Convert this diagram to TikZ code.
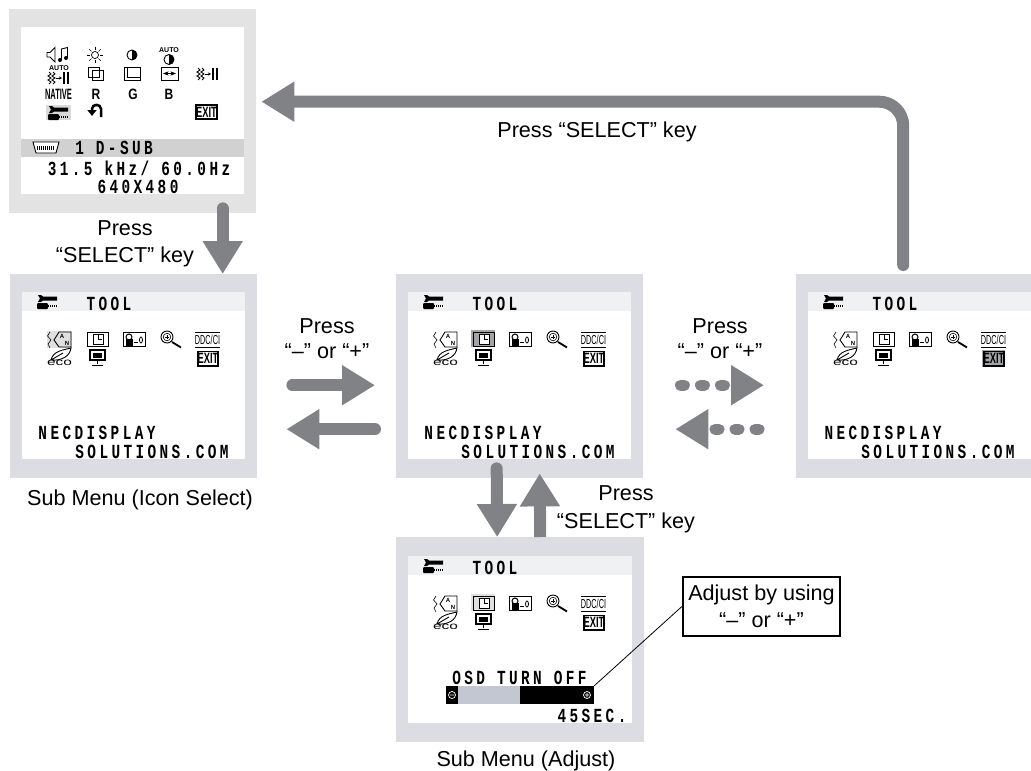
\documentclass[tikz,border=0pt]{standalone}
\usepackage{fontspec}
\usepackage{tikz}
\usetikzlibrary{arrows.meta, positioning}
\setmainfont{Liberation Sans}
\newfontfamily\osdfont[FakeStretch=0.72,LetterSpace=17]{Liberation Mono}
\newfontfamily\iconfont{Liberation Sans}

\definecolor{panelgrey}{HTML}{DCDDE2}
\definecolor{topgrey}{HTML}{E3E3E3}
\definecolor{bandgrey}{HTML}{F0F1F3}
\definecolor{arrowgrey}{HTML}{808285}
\definecolor{hlgrey}{HTML}{A4A5A8}
\definecolor{barlight}{HTML}{C3C7D2}

\tikzset{
    panel/.style={fill=panelgrey, anchor=north west, inner sep=0pt, minimum height=204pt},
    screen/.style={fill=white, anchor=north west, inner sep=0pt, minimum height=167pt},
    band/.style={anchor=north west, inner sep=0pt, minimum height=19pt},
    osd/.style={inner sep=0pt, text height=13pt, text depth=0pt, font=\osdfont\bfseries\fontsize{20}{20}\selectfont},
    label/.style={align=center, inner sep=0pt, font=\fontsize{21.6}{25}\selectfont},
    tiny/.style={inner sep=0pt, font=\iconfont\bfseries\fontsize{7}{7}\selectfont},
    letter/.style={inner sep=0pt, font=\iconfont\bfseries\fontsize{6}{6}\selectfont},
    glyph/.style={inner sep=0pt, font=\iconfont\bfseries\fontsize{15}{15}\selectfont},
    icon/.style={line width=0.9pt, black},
    bigarrow/.style={draw=arrowgrey, line width=12pt, line cap=round,
        -{Triangle[length=33pt, width=38pt, fill=arrowgrey]}},
    dotarrow/.style={bigarrow, line width=11pt, dash pattern=on 4pt off 16pt},
    wrench/.pic={
        \fill (1,0) -- (4,0) -- (6,1.5) -- (20,1.5) -- (20,5.5) -- (6,5.5) -- (4,7) -- (1,7) -- (3,3.5) -- cycle;
        \fill[rounded corners=1pt] (0,8) rectangle (11,14);
        \draw[line width=1.8pt, dash pattern=on 1pt off 1pt] (11,11) -- (20,11);
    },
    halfmoon/.pic={
        \draw[icon] (0,0) circle (5);
        \fill (0,5) arc (90:-90:5) -- cycle;
    },
    wiggle/.pic={
        \draw[icon] (1,0) -- (3,2) -- (0,4) -- (3,6) -- (0,8) -- (3,10) -- (1,12);
        \draw[icon] (5,0) -- (7,2) -- (4,4) -- (7,6) -- (4,8) -- (7,10) -- (5,12);
        \draw[line width=0.7pt, -{Stealth[length=3pt, width=3pt]}] (8,6) -- (14,6);
        \fill (15,0) rectangle (17,12);
        \fill (19,0) rectangle (21,12);
    }
}

% icons of a TOOL menu, #1 name
\newcommand{\toolicons}[1]{
    \pic at (423,295) {wrench};
    \node (#1Title) [osd] at (495,304) {TOOL};
    % language and sleep
    \draw[line width=0.6pt] (436,332) -- (433.5,336) -- (437,340) -- (434,344) -- (436,348);
    \draw[icon] (445,332) -- (457,332) -- (457,347) -- (445,347) -- (440,340) -- cycle;
    \node (#1LangA) [letter] at (448,336) {A};
    \node (#1LangN) [letter] at (453,343) {N};
    % clock
    \draw[icon] (473,332) rectangle (494,346);
    \draw[line width=0.6pt, fill=white] (479,334) rectangle (489,344);
    \draw[line width=0.6pt] (484,334) -- (484,339) -- (488,339);
    % lock
    \draw[icon] (509,332) rectangle (531,346.5);
    \draw[line width=1pt] (515,337) circle (3);
    \fill (511.5,338.5) rectangle (518.5,345.5);
    \draw[line width=1pt] (520,342) -- (524,342);
    \draw[line width=0.8pt] (527,340) ellipse (1.5 and 3);
    % zoom
    \draw[icon] (553,337) circle (6);
    \draw[line width=0.6pt] (553,337) circle (3.8);
    \draw[line width=0.6pt] (551,337) -- (555,337) (553,335) -- (553,339);
    \draw[line width=1.8pt] (558,342) -- (567,347.5);
    % DDC/CI
    \draw[icon] (581,332) -- (606,332) (581,347) -- (606,347);
    \node (#1Ddc) [inner sep=0pt, font=\iconfont\fontsize{13}{13}\selectfont] at (593.5,339.5) {\scalebox{0.56}[1]{DDC/CI}};
    % eco
    \draw[icon] (437,360) .. controls (439,351) and (449,350) .. (457,348) .. controls (456,356) and (448,361) .. (437,360) -- (449,353);
    \node (#1Eco) [inner sep=0pt, font=\iconfont\fontsize{10}{10}\selectfont] at (445.5,362.5) {\scalebox{1.55}[1]{eco}};
    % monitor
    \draw[line width=1.4pt] (476,350) rectangle (491,360);
    \fill (479,352.5) rectangle (488,358);
    \draw[line width=1pt] (483.5,360) -- (483.5,364) (478,365.5) -- (489,365.5);
    % exit
    \draw[line width=1.2pt] (584,351.5) rectangle (604,366);
    \node (#1Exit) [glyph] at (594,358.7) {\scalebox{0.62}[1]{EXIT}};
}

% one TOOL menu, #1 name, #2 width, #3 highlight
\newcommand{\toolmenu}[3]{
    \node (#1) [panel, minimum width=#2] at (396,274) {};
    \node (#1Screen) [screen, minimum width=223pt] at (408,292) {};
    \node (#1Band) [band, fill=bandgrey, minimum width=223pt] at (408,292) {};
    #3
    \toolicons{#1}
    \node (#1Nec) [osd] at (483,433) {NECDISPLAY};
    \node (#1Sol) [osd] at (538,452) {SOLUTIONS.COM};
}

\begin{document}
\begin{tikzpicture}[x=1pt, y=-1pt, >=Stealth]
    \useasboundingbox (0,0) rectangle (1031,771);

    % Main menu
    \node (Main) [panel, fill=topgrey, minimum width=247pt] at (9,9) {};
    \node (MainScreen) [screen, minimum width=223pt] at (21,27) {};
    \node (MainBand) [band, fill=black!18, minimum width=223pt, minimum height=18pt] at (21,139) {};
    \draw[icon] (47,52.5) -- (50,52.5) -- (55,47.5) -- (55,62) -- (50,57) -- (47,57) -- cycle;
    \fill (60,60) circle (2) (66,58) circle (2);
    \draw[icon] (61.5,60) -- (61.5,49) -- (67.5,47.5) -- (67.5,58);
    \draw[line width=0.7pt] (95,55) circle (3.5);
    \foreach \a in {0,45,...,315}
        \draw[line width=0.6pt] (95,55) ++(\a:5) -- ++(\a:3);
    \pic at (132,55) {halfmoon};
    \node (AutoA) [tiny] at (169,50) {AUTO};
    \pic at (169,59.5) {halfmoon};
    \node (AutoB) [tiny] at (59,68) {AUTO};
    \pic at (48,72) {wiggle};
    \draw[icon] (88,67) rectangle (99,77) (92,70) rectangle (103,80);
    \draw[icon] (124,67) rectangle (140,80) (127,67) -- (127,77) -- (140,77);
    \draw[icon] (161,67) rectangle (178,80);
    \draw[line width=0.6pt, <->] (163,73.5) -- (176,73.5);
    \pic at (197,68) {wiggle};
    \node (Native) [glyph] at (58.5,94) {\scalebox{0.5}[1]{NATIVE}};
    \node (ColorR) [glyph] at (96,94) {\scalebox{0.8}[1]{R}};
    \node (ColorG) [glyph] at (133,94) {\scalebox{0.8}[1]{G}};
    \node (ColorB) [glyph] at (169,94) {\scalebox{0.8}[1]{B}};
    \fill[black!15] (46,105) rectangle (71,120);
    \pic at (48,106) {wrench};
    \draw[line width=2.5pt, -{Triangle[length=6pt, width=9pt]}] (101,117) -- (101,109) .. controls (101,103.5) and (92,103.5) .. (92,109) -- (92,116);
    \draw[line width=1.2pt] (196,105) rectangle (217,119);
    \node (MainExit) [glyph] at (206.5,112.2) {\scalebox{0.62}[1]{EXIT}};
    \draw[icon, fill=white] (33,142) -- (59,142) -- (56,153) -- (36,153) -- cycle;
    \draw[line width=4pt, dash pattern=on 1pt off 1pt] (37,147.5) -- (55,147.5);
    \node (Input) [osd] at (114,148) {1 D-SUB};
    \node (Freq) [osd] at (139,169) {31.5 kHz/ 60.0Hz};
    \node (Res) [osd] at (138,187) {640X480};

    % Sub menu, icon select
    \begin{scope}[xshift=-386pt]
        \toolmenu{SubL}{247pt}{\fill[black!12] (433,331) rectangle (458,348);}
    \end{scope}

    % Sub menu, next icon
    \begin{scope}
        \toolmenu{SubC}{247pt}{\fill[hlgrey] (471,330) rectangle (495,347);}
    \end{scope}

    % Sub menu, last icon
    \begin{scope}[xshift=400pt]
        \toolmenu{SubR}{235pt}{\fill[hlgrey] (582,350) rectangle (605,367);}
    \end{scope}

    % Sub menu, adjust
    \node (SubB) [panel, minimum width=248pt, minimum height=205pt] at (396,537) {};
    \node (SubBScreen) [screen, minimum width=224pt] at (408,556) {};
    \node (SubBBand) [band, fill=bandgrey, minimum width=224pt] at (408,556) {};
    \begin{scope}[yshift=-264pt]
        \fill[black!12] (471,330) rectangle (495,347);
        \toolicons{SubB}
    \end{scope}
    \node (OsdOff) [osd] at (519.5,678) {OSD TURN OFF};
    \node (OsdBar) [fill=black, inner sep=0pt, minimum width=148pt, minimum height=18pt] at (520,695) {};
    \fill[barlight] (458,686) rectangle (520,704);
    \draw[white, line width=0.7pt] (452,695) circle (3.5) (450,695) -- (454,695);
    \draw[white, line width=0.7pt] (587,695) circle (3.5) (585,695) -- (589,695) (587,693) -- (587,697);
    \node (OsdSec) [osd] at (592,716) {45SEC.};

    % Arrows
    \draw[bigarrow] ([xshift=90pt, yshift=5pt]Main.south) -- ([xshift=89pt]SubL.north);
    \draw[bigarrow] ([xshift=35pt, yshift=-9pt]SubL.east) -- ([xshift=-21pt, yshift=-9pt]SubC.west);
    \draw[bigarrow] ([xshift=-21pt, yshift=-53pt]SubC.west) -- ([xshift=29pt, yshift=-53pt]SubL.east);
    \draw[dotarrow] ([xshift=37pt, yshift=-9pt]SubC.east) -- ([xshift=-32pt, yshift=-9pt]SubR.west);
    \draw[dotarrow] ([xshift=-37pt, yshift=-53pt]SubR.west) -- ([xshift=32pt, yshift=-53pt]SubC.east);
    \draw[bigarrow] ([xshift=-23pt, yshift=10pt]SubC.south) -- ([xshift=-23pt]SubB.north);
    \draw[bigarrow, line cap=butt] ([xshift=20pt]SubB.north) -- ([xshift=20pt, yshift=5pt]SubC.south);
    \draw[bigarrow, rounded corners=24pt] ([xshift=-10.5pt, yshift=9pt]SubR.north) |- ([xshift=5pt, yshift=9.5pt]Main.east);

    % Labels
    \node (PressMain) [label] at (597,132) {Press ``SELECT'' key};
    \node (PressL) [label, font=\fontsize{21.6}{27}\selectfont] at (125,244) {Press\\``SELECT'' key};
    \node (PressA) [label] at (327,338.5) {Press\\``--'' or ``+''};
    \node (PressB) [label] at (720,338.5) {Press\\``--'' or ``+''};
    \node (PressC) [label, font=\fontsize{21.6}{28}\selectfont] at (626,509.5) {Press\\``SELECT'' key};
    \node (CapIcon) [label] at (140,500) {Sub Menu (Icon Select)};
    \node (CapAdjust) [label] at (526,761) {Sub Menu (Adjust)};

    % Callout
    \node (Adjust) [draw, line width=2.2pt, align=center, inner sep=0pt, minimum width=157pt, minimum height=59pt,
        font=\fontsize{21.6}{27}\selectfont] at (761.5,606.5) {Adjust by using\\``--'' or ``+''};
    \draw[line width=0.8pt] (Adjust.west) -- (OsdBar.north east);
\end{tikzpicture}
\end{document}
